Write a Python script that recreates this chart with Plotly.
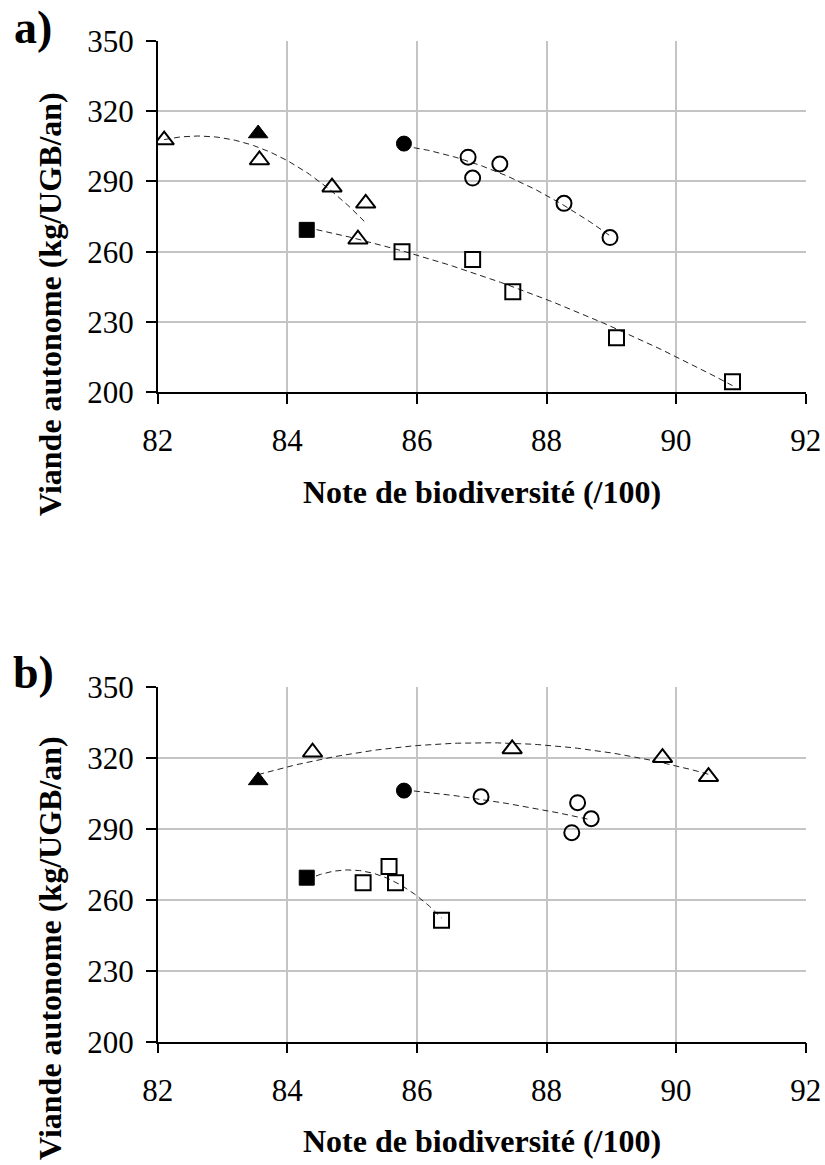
import numpy as np
import plotly.graph_objects as go

# Reference (filled) points shared by both panels: triangle, square, circle
ref_x = [83.55, 84.3, 85.8]
ref_y = [310.4, 269.3, 306.1]

# Panel a)
a_tri_x = [82.1, 83.57, 84.69, 85.21, 85.09]
a_tri_y = [307.6, 299.1, 287.5, 280.6, 265.3]
a_sq_x = [85.77, 86.86, 87.48, 89.08, 90.87]
a_sq_y = [260.0, 256.7, 242.9, 223.3, 204.5]
a_ci_x = [86.79, 86.86, 87.28, 88.27, 88.98]
a_ci_y = [300.3, 291.4, 297.4, 280.6, 266.0]

# Panel b)
b_tri_x = [84.39, 87.47, 89.79, 90.5]
b_tri_y = [322.3, 323.7, 320.0, 312.0]
b_sq_x = [85.17, 85.57, 85.67, 86.38]
b_sq_y = [267.2, 274.0, 267.2, 251.3]
b_ci_x = [86.99, 88.48, 88.69, 88.39]
b_ci_y = [303.5, 301.0, 294.2, 288.3]

x_ticks = [82, 84, 86, 88, 90, 92]
y_ticks = [200, 230, 260, 290, 320, 350]

FONT = "Liberation Serif"
W, H = 825, 1165
OFF = 0  # body margin removed by post_script

fig = go.Figure()


def add_group(xs, ys, rx, ry, sym, size, xa, ya, deg=2):
    allx = np.array([rx] + list(xs))
    ally = np.array([ry] + list(ys))
    coef = np.polyfit(allx, ally, deg)
    gx = np.linspace(allx.min(), allx.max(), 80)
    gy = np.polyval(coef, gx)
    fig.add_trace(go.Scatter(x=gx, y=gy, mode="lines", xaxis=xa, yaxis=ya,
                             line=dict(color="#222222", width=1, dash="6px,4px"),
                             showlegend=False, hoverinfo="skip"))
    fig.add_trace(go.Scatter(x=xs, y=ys, mode="markers", xaxis=xa, yaxis=ya,
                             marker=dict(symbol=sym + "-open", size=size, color="black",
                                         line=dict(color="black", width=2)),
                             showlegend=False))
    fig.add_trace(go.Scatter(x=[rx], y=[ry], mode="markers", xaxis=xa, yaxis=ya,
                             marker=dict(symbol=sym, size=size, color="black",
                                         line=dict(color="black", width=1)),
                             showlegend=False))


add_group(a_tri_x, a_tri_y, ref_x[0], ref_y[0], "triangle-up", 17, "x", "y")
add_group(a_sq_x, a_sq_y, ref_x[1], ref_y[1], "square", 15, "x", "y")
add_group(a_ci_x, a_ci_y, ref_x[2], ref_y[2], "circle", 15, "x", "y")
add_group(b_tri_x, b_tri_y, ref_x[0], ref_y[0], "triangle-up", 17, "x2", "y2")
add_group(b_sq_x, b_sq_y, ref_x[1], ref_y[1], "square", 15, "x2", "y2")
add_group(b_ci_x, b_ci_y, ref_x[2], ref_y[2], "circle", 15, "x2", "y2")


def px_x(p):
    return (p - OFF) / W


def px_y(p):
    return 1 - (p - OFF) / H


xdom = [px_x(157.7), px_x(805.7)]
ya_dom = [px_y(392.3), px_y(40.7)]
yb_dom = [px_y(1041.7), px_y(686.7)]

xcommon = dict(range=[82, 92], tickvals=x_ticks, showgrid=True, gridcolor="#c4c4c4",
               gridwidth=1.5, showline=True, linecolor="black", linewidth=1.5,
               ticks="outside", ticklen=10, tickwidth=1.5, tickcolor="black",
               tickfont=dict(family=FONT, size=31, color="black"),
               ticklabelstandoff=10, zeroline=False, domain=xdom, fixedrange=True,
               automargin=False)
ycommon = dict(range=[200, 350], tickvals=y_ticks, showgrid=True, gridcolor="#c4c4c4",
               gridwidth=1.5, showline=True, linecolor="black", linewidth=1.5,
               ticks="outside", ticklen=10, tickwidth=1.5, tickcolor="black",
               tickfont=dict(family=FONT, size=31, color="black"),
               ticklabelstandoff=6, zeroline=False, fixedrange=True,
               automargin=False)

fig.update_layout(
    width=W, height=H,
    margin=dict(l=0, r=0, t=0, b=0, pad=0, autoexpand=False),
    paper_bgcolor="white", plot_bgcolor="white",
    xaxis=dict(xcommon, anchor="y"),
    yaxis=dict(ycommon, domain=ya_dom, anchor="x"),
    xaxis2=dict(xcommon, anchor="y2"),
    yaxis2=dict(ycommon, domain=yb_dom, anchor="x2"),
    showlegend=False,
)

xt = "Note de biodiversité (/100)"
yt = "Viande autonome (kg/UGB/an)"


def note(text, xp, yp, size, angle=0):
    return dict(text="<b>" + text + "</b>", x=px_x(xp), y=px_y(yp), xref="paper", yref="paper",
                xanchor="center", yanchor="middle", textangle=angle, showarrow=False,
                font=dict(family=FONT, size=size, color="black"))


ann = [
    note("a)", 33, 28, 46),
    note("b)", 33, 672, 46),
    note(xt, 481.7, 492, 32),
    note(xt, 481.7, 1141, 32),
    note(yt, 50, 304, 32, -90),
    note(yt, 50, 948, 32, -90),
]
fig.update_layout(annotations=ann)

fig.write_html("out.html", config={"responsive": False, "displayModeBar": False},
               post_script="document.body.style.margin='0';document.body.style.overflow='hidden';")
